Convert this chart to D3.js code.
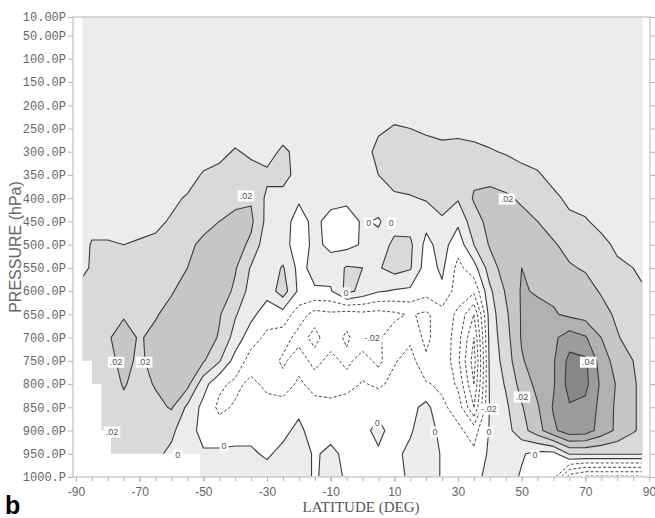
<!DOCTYPE html>
<html>
<head>
<meta charset="utf-8">
<script src="https://cdn.jsdelivr.net/npm/d3@7"></script>
<style>
  body { margin: 0; background: #fff; }
</style>
</head>
<body>
<svg id="chart" width="655" height="518" font-family="'Liberation Sans', Arial, sans-serif"></svg>
<script>
// Grid columns (latitude, degrees) and rows (pressure, hPa)
const latitudes = [-88,-85,-80,-75,-70,-65,-60,-55,-50,-45,-40,-35,-30,-25,-20,-15,-10,-5,0,5,10,15,20,25,30,35,40,45,50,55,60,65,70,75,80,85,88];
const pressures = [10,50,100,150,200,250,300,350,400,450,500,550,600,650,700,750,800,850,900,950,1000];

// Field values on the grid, in units of 0.001 (one row per pressure level)
const field = [
  [5,5,5,5,5,5,5,5,5,5,5,5,5,5,5,5,5,5,5,5,5,5,5,5,5,5,5,5,5,5,5,5,5,5,5,5,5],
  [5,5,5,5,5,5,5,5,5,5,5,5,5,5,5,5,5,5,5,5,5,5,5,5,5,5,5,5,5,5,5,5,5,5,5,5,5],
  [5,5,5,5,5,5,5,5,5,5,5,5,5,5,5,5,5,5,5,5,5,5,5,5,5,5,5,5,5,5,5,5,5,5,5,5,5],
  [5,5,5,5,5,5,5,5,5,5,5,5,5,5,5,5,5,5,5,5,5,5,5,5,5,5,5,5,5,5,5,5,5,5,5,5,5],
  [5,5,5,5,5,5,5,5,5,5,5,5,5,5,5,5,5,5,5,5,5,5,5,5,5,5,5,5,5,5,5,5,5,5,5,5,5],
  [5,5,5,5,5,5,5,5,5,5,5,5,5,5,5,5,5,5,5,8,11,10,8,7,7,6,5,5,5,5,5,5,5,5,5,5,5],
  [5,5,5,5,5,5,5,5,5,7,11,8,6,12,7,5,5,5,4,14,16,16,15,13,14,13,11,9,7,6,5,5,5,5,5,5,5],
  [5,5,5,5,5,5,5,6,11,13,14,14,12,13,7,5,5,5,5,10,15,16,15,16,16,18,18,17,13,11,7,5,5,5,5,5,5],
  [5,5,5,5,6,6,8,11,13,15,17,19,8,7,1,3,3,2,4,5,8,9,11,13,11,21,22,21,19,16,12,8,6,5,5,5,5],
  [5,6,6,7,7,8,11,14,17,20,23,22,7,3,-3,2,-3,-4,1,-1,5,6,3,9,2,16,23,23,22,20,16,12,11,7,5,5,5],
  [6,11,11,10,11,12,15,18,22,25,24,18,3,3,-4,2,-2,-3,1,3,13,12,-3,4,-6,10,21,24,25,23,21,17,15,13,8,6,6],
  [8,11,12,12,13,15,17,20,24,27,21,9,4,11,-3,3,4,11,10,9,14,11,-5,2,-13,-4,15,25,30,28,25,21,19,16,12,10,8],
  [13,13,13,14,15,16,19,25,27,26,18,6,4,15,-2,-1,-1,13,7,1,-1,-2,-6,-2,-15,-18,8,21,31,29,28,26,24,19,16,12,11],
  [15,15,15,19,17,19,24,27,27,21,11,3,-6,-4,-15,-24,-22,-25,-23,-24,-22,-19,-22,-14,-22,-40,5,18,31,33,31,28,26,24,18,13,12],
  [15,15,19,24,19,23,27,28,26,19,6,-6,-12,-15,-24,-17,-26,-18,-27,-21,-16,-12,-23,-12,-26,-50,4,16,31,34,38,45,41,30,21,15,13],
  [14,15,17,23,18,24,27,27,21,11,-4,-14,-14,-22,-14,-24,-16,-23,-15,-23,-11,-6,-18,-11,-28,-55,3,14,29,35,39,53,52,35,26,20,17],
  [13,13,14,21,16,21,26,23,4,-8,-12,-8,-12,-16,-8,-14,-13,-15,-9,-12,-7,-8,-9,-12,-22,-50,2,11,24,33,39,54,53,38,29,21,18],
  [12,12,13,17,14,17,21,8,-3,-12,-9,-4,-7,-5,-2,-6,-8,-3,-6,-2,-5,-3,3,-8,-14,-40,1,8,19,29,41,49,47,37,28,21,18],
  [10,10,12,13,13,14,12,4,-3,-6,-4,-2,-4,-2,2,-4,-3,-3,-2,2,-3,-1,5,-3,-8,-14,1,6,16,26,38,46,45,36,28,21,18],
  [10,10,10,12,12,12,8,1,1,2,2,1,-1,2,4,-1,2,-2,-2,-1,-2,2,6,-1,-4,-8,2,5,1,-3,-3,11,11,11,11,11,11],
  [10,10,10,10,10,10,6,1,3,4,4,4,3,3,4,-1,3,-1,-2,-1,-2,1,6,-1,-2,-3,3,4,-1,-4,-6,-35,-42,-42,-42,-42,-42]
];

// Shading bands (lower bounds, x0.001) and their greys
const fillLevels = [0, 10, 20, 30, 40, 50];
const fillColors = ["#ececec", "#d9d9d9", "#c6c6c6", "#b1b1b1", "#9c9c9c", "#878787"];
// Contour lines, negative ones dashed
const lineLevels = [-50, -40, -30, -20, -10, 0, 10, 20, 30, 40, 50];

// Terrain: surface pressure steps over Antarctica
const groundLat = [-90, -85, -82, -79, -51];
const groundTop = [750, 800, 900, 950];

// Axis ticks
const pressureTicks = [10,50,100,150,200,250,300,350,400,450,500,550,600,650,700,750,800,850,900,950,1000];
const pressureTickLabels = ["10.00P","50.00P","100.0P","150.0P","200.0P","250.0P","300.0P","350.0P","400.0P","450.0P","500.0P","550.0P","600.0P","650.0P","700.0P","750.0P","800.0P","850.0P","900.0P","950.0P","1000.P"];
const latLabelTicks = [-90,-70,-50,-30,-10,10,30,50,70,90];
const latMinorTicks = [-90,-85,-80,-75,-70,-65,-60,-55,-50,-45,-40,-35,-30,-25,-20,-15,-10,-5,0,5,10,15,20,25,30,35,40,45,50,55,60,65,70,75,80,85,90];

// Contour value labels
const labelLat  = [-36.6, -77.4, -68.6, -78.7, -58, -43.5, 45.4, 2, 9, -5.2, 3, 50.1, 70.9, 54.2, 4.6, 22.8, 39.7, 39.7];
const labelP    = [395, 753, 753, 903, 953, 933, 402, 453, 453, 604, 701, 828, 753, 953, 884, 903, 854, 903];
const labelText = [".02", ".02", ".02", ".02", "0", "0", ".02", "0", "0", "0", "-.02", ".02", ".04", "0", "0", "0", "-.02", "0"];

const svg = d3.select("#chart");
const plotLeft = 73, plotRight = 650, plotTop = 17, plotBottom = 477;

const x = d3.scaleLinear().domain([-90, 90]).range([76, 649]);
const y = d3.scaleLinear().domain([10, 1000]).range([plotTop, plotBottom]);

// grid index -> latitude / pressure (piecewise, since spacing is uneven)
const colToLat = d3.scaleLinear().domain(d3.range(latitudes.length)).range(latitudes).clamp(true);
const rowToP = d3.scaleLinear().domain(d3.range(pressures.length)).range(pressures).clamp(true);

const values = field.flat();
const contours = d3.contours().size([latitudes.length, pressures.length]);
const project = d3.geoTransform({
  point(px, py) { this.stream.point(x(colToLat(px - 0.5)), y(rowToP(py - 0.5))); }
});
const path = d3.geoPath(project);

// shaded bands
const gFill = svg.append("g");
fillLevels.forEach((t, i) => {
  gFill.append("path")
    .attr("d", path(contours.contour(values, t)))
    .attr("fill", fillColors[i]);
});

// contour lines, clipped just inside the data domain so the grid edge is not outlined
svg.append("clipPath").attr("id", "inner")
  .append("rect")
  .attr("x", x(-88) + 0.9).attr("y", plotTop + 0.9)
  .attr("width", x(88) - x(-88) - 1.8).attr("height", plotBottom - plotTop - 1.8);

const gLines = svg.append("g").attr("clip-path", "url(#inner)");
lineLevels.forEach(t => {
  gLines.append("path")
    .attr("d", path(contours.contour(values, t)))
    .attr("fill", "none")
    .attr("stroke", t < 0 ? "#4a4a4a" : "#3a3a3a")
    .attr("stroke-width", t < 0 ? 1 : 1.1)
    .attr("stroke-dasharray", t < 0 ? "3,2" : null)
    .attr("stroke-linejoin", "round");
});

// terrain mask: each step reaches back to the pole so adjacent steps overlap
svg.append("g").selectAll("rect")
  .data(groundTop)
  .join("rect")
  .attr("x", x(-90))
  .attr("y", d => y(d))
  .attr("width", (d, i) => x(groundLat[i + 1]) - x(-90))
  .attr("height", d => plotBottom - y(d))
  .attr("fill", "#fff");

// contour labels
const gLab = svg.append("g");
labelText.forEach((s, i) => {
  const g = gLab.append("g").attr("transform", `translate(${x(labelLat[i])},${y(labelP[i])})`);
  const r = g.append("rect").attr("fill", "#fff");
  const t = g.append("text")
    .attr("text-anchor", "middle")
    .attr("dy", "0.35em")
    .attr("font-size", 9)
    .attr("fill", "#555")
    .text(s);
  const w = t.node().getComputedTextLength();
  r.attr("x", -w / 2 - 2).attr("y", -5.5).attr("width", w + 4).attr("height", 11);
});

// frame
const axisColor = "#b4b4b4";
svg.append("rect")
  .attr("x", plotLeft).attr("y", plotTop)
  .attr("width", plotRight - plotLeft).attr("height", plotBottom - plotTop)
  .attr("fill", "none").attr("stroke", axisColor).attr("stroke-width", 1);

// left axis
const gLeft = svg.append("g").attr("transform", `translate(${plotLeft},0)`)
  .call(d3.axisLeft(y).tickValues(pressureTicks)
    .tickFormat((d, i) => pressureTickLabels[i]).tickSize(5).tickPadding(2));
gLeft.select(".domain").remove();
gLeft.selectAll("line").attr("stroke", axisColor);
gLeft.selectAll("text")
  .attr("font-family", "'Liberation Mono', 'DejaVu Sans Mono', monospace")
  .attr("font-size", 12).attr("fill", "#666");

// right axis (ticks only)
const gRight = svg.append("g").attr("transform", `translate(${plotRight},0)`)
  .call(d3.axisRight(y).tickValues(pressureTicks).tickFormat("").tickSize(5));
gRight.select(".domain").remove();
gRight.selectAll("line").attr("stroke", axisColor);

// bottom axis: minor ticks every 5 degrees, labels every 20
const gBottomMinor = svg.append("g").attr("transform", `translate(0,${plotBottom})`)
  .call(d3.axisBottom(x).tickValues(latMinorTicks).tickFormat("").tickSize(4));
gBottomMinor.select(".domain").remove();
gBottomMinor.selectAll("line").attr("stroke", axisColor);

const gBottom = svg.append("g").attr("transform", `translate(0,${plotBottom})`)
  .call(d3.axisBottom(x).tickValues(latLabelTicks).tickSize(5).tickPadding(5)
    .tickFormat(d => String(d)));
gBottom.select(".domain").remove();
gBottom.selectAll("line").attr("stroke", axisColor);
gBottom.selectAll("text")
  .attr("font-family", "'Liberation Sans', Arial, sans-serif")
  .attr("font-size", 12).attr("fill", "#666");

// axis titles
svg.append("text")
  .attr("transform", `translate(21,247) rotate(-90)`)
  .attr("text-anchor", "middle")
  .attr("font-size", 16).attr("fill", "#666")
  .text("PRESSURE (hPa)");

svg.append("text")
  .attr("x", 361).attr("y", 512)
  .attr("text-anchor", "middle")
  .attr("font-family", "'Liberation Serif', 'Times New Roman', serif")
  .attr("font-size", 15).attr("fill", "#555")
  .text("LATITUDE (DEG)");

// panel letter
svg.append("text")
  .attr("x", 5).attr("y", 514)
  .attr("font-size", 25).attr("font-weight", "bold").attr("fill", "#000")
  .text("b");
</script>
</body>
</html>
